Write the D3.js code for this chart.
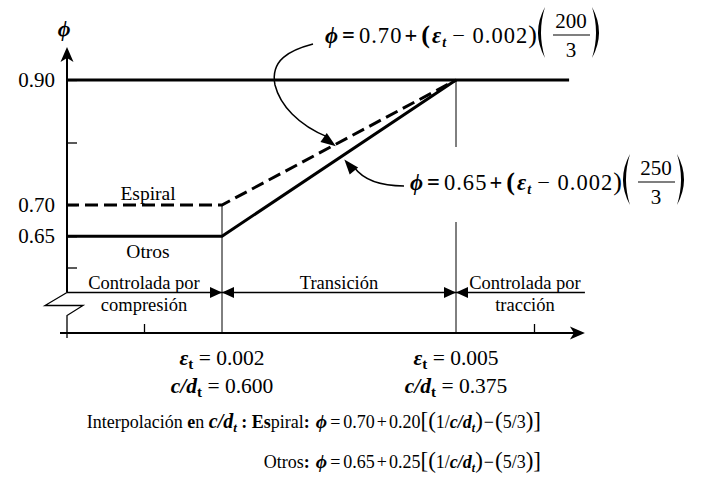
<!DOCTYPE html>
<html>
<head>
  <script src="https://d3js.org/d3.v7.min.js"></script>
  <style>
    body {
      margin: 0;
      background-color: #fff;
      overflow: hidden;
    }
    text {
      font-family: "Liberation Serif", "Times New Roman", serif;
      fill: #000;
    }
  </style>
</head>
<body>
  <script>
    // strain limits and phi values
    const strain = [0, 0.002, 0.005];
    const phiEspiral = [0.70, 0.70, 0.90];
    const phiOtros = [0.65, 0.65, 0.90];
    const phiTension = [0.90, 0.90];
    const strainTension = [0, 0.00645];

    const phiTicks = [0.60, 0.65, 0.70, 0.80, 0.90];
    const phiTickLabels = ["", "0.65", "0.70", "", "0.90"];
    const strainTicks = [0.001, 0.006];

    const zoneBounds = [0, 0.002, 0.005, 0.00664];
    const zoneLabels = [["Controlada por", "compresión"], ["Transición"], ["Controlada por", "tracción"]];
    const zonePhi = 0.56;

    const limitStrain = ["0.002", "0.005"];
    const limitCd = ["0.600", "0.375"];

    const width = 701, height = 483;

    const svg = d3.select("body").append("svg")
      .attr("width", width)
      .attr("height", height);

    const x = d3.scaleLinear().domain([0, 0.005]).range([66, 456]);
    const y = d3.scaleLinear().domain([0.60, 0.90]).range([267.5, 80]);

    const x0 = x(0) + 1;
    const yZone = y(zonePhi);
    const xAxisY = 333;

    // thin vertical limit lines
    svg.append("line")
      .attr("x1", x(0.002)).attr("x2", x(0.002))
      .attr("y1", y(0.70)).attr("y2", xAxisY)
      .attr("stroke", "#000").attr("stroke-width", 1);
    svg.append("line")
      .attr("x1", x(0.005)).attr("x2", x(0.005))
      .attr("y1", y(0.90)).attr("y2", xAxisY)
      .attr("stroke", "#000").attr("stroke-width", 1);

    // y axis ticks
    const yAxis = d3.axisLeft(y)
      .tickValues(phiTicks)
      .tickSize(-10)
      .tickPadding(12)
      .tickFormat((d, i) => phiTickLabels[i]);
    const gy = svg.append("g")
      .attr("transform", `translate(${x0},0)`)
      .call(yAxis);
    gy.select(".domain").remove();
    gy.selectAll(".tick line").attr("stroke", "#000").attr("stroke-width", 1.3);
    gy.selectAll(".tick text")
      .attr("font-family", "Liberation Serif")
      .attr("font-size", 21)
      .attr("fill", "#000");

    // x axis ticks
    const xAxis = d3.axisBottom(x)
      .tickValues(strainTicks)
      .tickSize(-9)
      .tickFormat("");
    const gx = svg.append("g")
      .attr("transform", `translate(0,${xAxisY})`)
      .call(xAxis);
    gx.select(".domain").remove();
    gx.selectAll(".tick line").attr("stroke", "#000").attr("stroke-width", 1.3);

    // y axis line + arrow
    svg.append("line")
      .attr("x1", x0).attr("x2", x0)
      .attr("y1", 58).attr("y2", yZone)
      .attr("stroke", "#000").attr("stroke-width", 2);
    svg.append("path")
      .attr("d", `M${x0},47 L${x0 + 6.5},62 L${x0},58 L${x0 - 6.5},62 Z`)
      .attr("fill", "#000");

    // break symbol
    svg.append("path")
      .attr("d", `M${x0},${yZone} L${x0 - 22},${yZone + 13} L${x0 + 16},${yZone + 13} L${x0},${yZone + 23} L${x0},${xAxisY + 5}`)
      .attr("fill", "none").attr("stroke", "#000").attr("stroke-width", 1.3);

    // x axis line + arrow
    const xEnd = x(zoneBounds[3]) + 1;
    svg.append("line")
      .attr("x1", x0 - 7).attr("x2", xEnd - 4)
      .attr("y1", xAxisY).attr("y2", xAxisY)
      .attr("stroke", "#000").attr("stroke-width", 2.2);
    svg.append("path")
      .attr("d", `M${xEnd},${xAxisY} L${xEnd - 15},${xAxisY - 6.5} L${xEnd - 11},${xAxisY} L${xEnd - 15},${xAxisY + 6.5} Z`)
      .attr("fill", "#000");

    // zone line with arrowheads
    svg.append("line")
      .attr("x1", x0).attr("x2", xEnd)
      .attr("y1", yZone).attr("y2", yZone)
      .attr("stroke", "#000").attr("stroke-width", 1.5);
    [0.002, 0.005].forEach(s => {
      const cx = x(s);
      svg.append("path")
        .attr("d", `M${cx},${yZone} L${cx - 12},${yZone - 5.5} L${cx - 12},${yZone + 5.5} Z`)
        .attr("fill", "#000");
      svg.append("path")
        .attr("d", `M${cx},${yZone} L${cx + 12},${yZone - 5.5} L${cx + 12},${yZone + 5.5} Z`)
        .attr("fill", "#000");
    });

    // zone labels
    zoneLabels.forEach((lines, i) => {
      const cx = (x(zoneBounds[i]) + x(zoneBounds[i + 1])) / 2 + (i === 2 ? 5 : 0);
      lines.forEach((t, j) => {
        svg.append("text")
          .attr("x", cx)
          .attr("y", yZone - 4 + j * 22)
          .attr("text-anchor", "middle")
          .attr("font-size", 18.5)
          .text(t);
      });
    });

    // phi curves
    const line = d3.line()
      .x(d => x(d[0]))
      .y(d => y(d[1]));

    svg.append("path")
      .datum(d3.zip(strainTension, phiTension))
      .attr("d", line)
      .attr("fill", "none").attr("stroke", "#000").attr("stroke-width", 3);

    svg.append("path")
      .datum(d3.zip(strain, phiEspiral))
      .attr("d", line)
      .attr("fill", "none").attr("stroke", "#000").attr("stroke-width", 3)
      .attr("stroke-dasharray", "13,6");

    svg.append("path")
      .datum(d3.zip(strain, phiOtros))
      .attr("d", line)
      .attr("fill", "none").attr("stroke", "#000").attr("stroke-width", 3);

    // line labels
    svg.append("text")
      .attr("x", x(0.001) + 4).attr("y", y(0.70) - 5)
      .attr("text-anchor", "middle").attr("font-size", 19.5)
      .text("Espiral");
    svg.append("text")
      .attr("x", x(0.001) + 4).attr("y", y(0.65) + 22)
      .attr("text-anchor", "middle").attr("font-size", 19.5)
      .text("Otros");

    // phi axis title
    svg.append("text")
      .attr("x", x0 - 3).attr("y", 36)
      .attr("text-anchor", "middle")
      .attr("font-size", 22).attr("font-weight", "bold").attr("font-style", "italic")
      .text("ϕ");

    // equations with fraction
    function paren(g, xa, top, bot, dir) {
      const mid = (top + bot) / 2;
      const outer = xa - dir * 14;
      const inner = xa - dir * 8;
      g.append("path")
        .attr("d", `M${xa},${top} Q${outer},${mid} ${xa},${bot} Q${inner},${mid} ${xa},${top} Z`)
        .attr("fill", "#000");
    }

    function equation(gx, gy, base, num, mask) {
      const g = svg.append("g").attr("transform", `translate(${gx},${gy})`);
      if (mask) {
        g.append("rect")
          .attr("x", -5).attr("y", -43).attr("width", 285).attr("height", 75)
          .attr("fill", "#fff");
      }
      const t = g.append("text").attr("x", 0).attr("y", 0).attr("font-size", 22.5)
        .attr("textLength", 212).attr("lengthAdjust", "spacing");
      t.append("tspan").attr("font-weight", "bold").attr("font-style", "italic").text("ϕ");
      t.append("tspan").attr("font-weight", "bold").attr("dx", 3).text("=");
      t.append("tspan").attr("dx", 3).text(base);
      t.append("tspan").attr("font-weight", "bold").attr("dx", 2).text("+");
      t.append("tspan").attr("font-weight", "bold").attr("font-size", 26).attr("dx", 3).text("(");
      t.append("tspan").attr("font-weight", "bold").attr("font-style", "italic").attr("dx", 1).text("ε");
      t.append("tspan").attr("font-weight", "bold").attr("font-style", "italic").attr("font-size", 14).attr("dy", 4).text("t");
      t.append("tspan").attr("dy", -4).attr("dx", 5).text("− 0.002");
      t.append("tspan").attr("font-size", 26).text(")");
      paren(g, 220, -36, 15, 1);
      g.append("text").attr("x", 246).attr("y", -15)
        .attr("text-anchor", "middle").attr("font-size", 21).text(num);
      g.append("line").attr("x1", 228).attr("x2", 265).attr("y1", -8).attr("y2", -8)
        .attr("stroke", "#000").attr("stroke-width", 1.2);
      g.append("text").attr("x", 246).attr("y", 14)
        .attr("text-anchor", "middle").attr("font-size", 21).text("3");
      paren(g, 267, -36, 15, -1);
    }

    equation(325, 43, "0.70", "200", false);
    equation(410, 190, "0.65", "250", true);

    // curved pointer arrows
    function pointer(d, tip, base) {
      svg.append("path").attr("d", d)
        .attr("fill", "none").attr("stroke", "#000").attr("stroke-width", 1.5);
      const ang = Math.atan2(tip[1] - base[1], tip[0] - base[0]);
      const len = 15, w = 5.5;
      const bx = tip[0] - len * Math.cos(ang), by = tip[1] - len * Math.sin(ang);
      const px = -Math.sin(ang) * w, py = Math.cos(ang) * w;
      svg.append("path")
        .attr("d", `M${tip[0]},${tip[1]} L${bx + px},${by + py} L${bx - px},${by - py} Z`)
        .attr("fill", "#000");
    }
    const tip1 = [x(0.00346), y(0.70 + 0.00146 * 200 / 3) + 2];
    pointer(`M313,44 C290,50 270,60 275,85 C280,105 298,125 ${tip1[0] - 8},${tip1[1] - 9}`, tip1, [310, 128]);
    const tip2 = [x(0.00353) + 3, y(0.65 + 0.00153 * 250 / 3) + 3];
    pointer(`M404,186 C385,186 365,182 ${tip2[0] + 10},${tip2[1] + 8}`, tip2, [358, 176]);

    // limit labels
    function limitLabel(cx, by, sym, val) {
      const t = svg.append("text").attr("x", cx).attr("y", by)
        .attr("text-anchor", "middle").attr("font-size", 21.5);
      t.append("tspan").attr("font-weight", "bold").attr("font-style", "italic").text(sym);
      t.append("tspan").attr("font-weight", "bold").attr("font-size", 15).attr("dy", 4).text("t");
      t.append("tspan").attr("dy", -4).text(" = " + val);
    }
    [0.002, 0.005].forEach((s, i) => {
      limitLabel(x(s), 365, "ε", limitStrain[i]);
      limitLabel(x(s), 393, "c/d", limitCd[i]);
    });

    // interpolation formulas, right edge fixed, prefix placed after measuring
    const formulaRight = 541;
    function formula(by, base, coef) {
      const t = svg.append("text").attr("x", 0).attr("y", by)
        .attr("font-size", 18);
      t.append("tspan").attr("font-weight", "bold").attr("font-style", "italic").attr("font-size", 19.5).text("ϕ");
      t.append("tspan").attr("dx", 3).text("=");
      t.append("tspan").attr("dx", 3).text(base);
      t.append("tspan").attr("dx", 2).text("+");
      t.append("tspan").attr("dx", 2).text(coef);
      t.append("tspan").attr("font-size", 23).text("[(");
      t.append("tspan").text("1/");
      t.append("tspan").attr("font-weight", "bold").attr("font-style", "italic").text("c/d");
      t.append("tspan").attr("font-weight", "bold").attr("font-style", "italic").attr("font-size", 12).attr("dy", 4).text("t");
      t.append("tspan").attr("font-size", 23).attr("dy", -4).text(")");
      t.append("tspan").attr("dx", 1).text("−");
      t.append("tspan").attr("font-size", 23).attr("dx", 1).text("(");
      t.append("tspan").text("5/3");
      t.append("tspan").attr("font-size", 23).text(")]");
      const bb = t.node().getBBox();
      const left = formulaRight - bb.width;
      t.attr("x", left);
      return left;
    }
    const f1 = formula(428, "0.70", "0.20");
    const f2 = formula(468, "0.65", "0.25");

    const p1 = svg.append("text").attr("x", f1 - 6).attr("y", 428)
      .attr("text-anchor", "end").attr("font-size", 18);
    p1.append("tspan").text("Interpolación ");
    p1.append("tspan").attr("font-weight", "bold").text("e");
    p1.append("tspan").text("n ");
    p1.append("tspan").attr("font-weight", "bold").attr("font-style", "italic").attr("font-size", 20).text("c/d");
    p1.append("tspan").attr("font-weight", "bold").attr("font-style", "italic").attr("font-size", 13).attr("dy", 4).text("t");
    p1.append("tspan").attr("font-weight", "bold").attr("dy", -4).text(" : Es");
    p1.append("tspan").text("piral");
    p1.append("tspan").attr("font-weight", "bold").text(":");

    const p2 = svg.append("text").attr("x", f2 - 6).attr("y", 468)
      .attr("text-anchor", "end").attr("font-size", 18);
    p2.append("tspan").text("Otros");
    p2.append("tspan").attr("font-weight", "bold").text(":");
  </script>
</body>
</html>
